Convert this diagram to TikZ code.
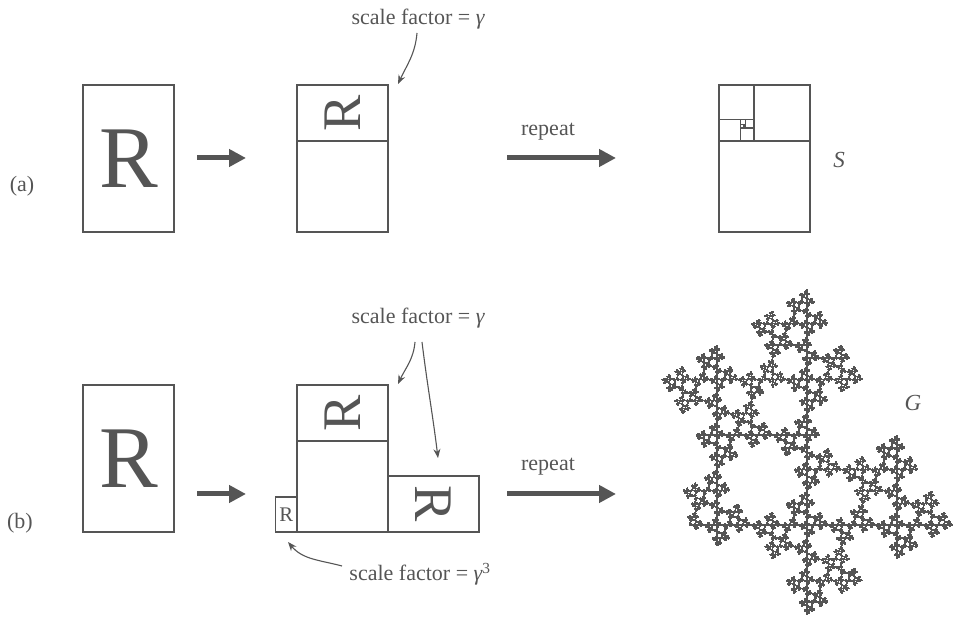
\documentclass[tikz,border=0pt]{standalone}
\usepackage{fontspec}
\setmainfont{Liberation Serif}
\usetikzlibrary{arrows.meta}
\definecolor{ink}{HTML}{555555}
\def\gam{0.618034}
\def\gamc{0.236068}
\def\phiv{1.618034}
\def\gmax{10}
\tikzset{
  fone/.style={cm={0,\gam,-\gam,0,(1,1)}},
  ftwo/.style={cm={0,-\gam,\gam,0,(1,\gam)}},
  fthree/.style={cm={\gamc,0,0,\gamc,(-\gamc,0)}},
  rbox/.style={draw=ink, line width=1.6pt},
  bigarrow/.style={-{Triangle[length=17pt,width=17pt]}, line width=5pt, draw=ink},
  thinarrow/.style={-{Stealth[length=9pt,width=7pt]}, line width=1.1pt, draw=ink},
  lab/.style={font=\fontsize{22}{24}\selectfont, text=ink, inner sep=0pt},
  letter/.style={transform shape, inner sep=0pt, font=\fontsize{88}{88}\selectfont, text=ink},
}
\newcommand\runit[1]{%
  \draw[rbox] (0,0) rectangle (1,\phiv);
  \node[letter] (#1) at (0.5,0.809017) {R};}
\newcommand\sstep[1]{%
  \ifnum#1>0
    \draw[rbox] (0,0) rectangle (1,1);
    \begin{scope}[fone]\expandafter\sstep\expandafter{\the\numexpr#1-1\relax}\end{scope}%
  \fi}
\newcommand\gstep[1]{%
  \ifnum#1>\gmax\relax
    \pgfpathrectangle{\pgfpointorigin}{\pgfpointxy{1}{1.618}}\pgfusepath{fill,stroke}%
  \else
    \begin{scope}[fone]\expandafter\gstep\expandafter{\the\numexpr#1+1\relax}\end{scope}%
    \begin{scope}[ftwo]\expandafter\gstep\expandafter{\the\numexpr#1+1\relax}\end{scope}%
    \begin{scope}[fthree]\expandafter\gstep\expandafter{\the\numexpr#1+3\relax}\end{scope}%
  \fi}
\begin{document}
\begin{tikzpicture}[x=1pt,y=1pt]
\useasboundingbox (0,0) rectangle (955,623);
% ---------------- (a) ----------------
\node[lab] (la) at (22,437) {(a)};
\begin{scope}[shift={(83,391)},x=91pt,y=91pt]
  \runit{Ra}
\end{scope}
\coordinate (a1s) at (197,465);
\coordinate (a1e) at (246,465);
\draw[bigarrow] (a1s) -- (a1e);
\begin{scope}[shift={(297,391)},x=91pt,y=91pt]
  \draw[rbox] (0,0) rectangle (1,1);
  \begin{scope}[fone]\runit{Rb}\end{scope}
\end{scope}
\node[lab,anchor=base] (sfa) at (418,598) {scale factor = {\itshape γ}};
\coordinate (sfas) at (417,590);
\coordinate (sfae) at (398,539);
\draw[thinarrow] (sfas) to[out=-95,in=65] (sfae);
\coordinate (r1s) at (507,465);
\coordinate (r1e) at (616,465);
\draw[bigarrow] (r1s) -- (r1e);
\node[lab] (rpa) at (548,491) {repeat};
\begin{scope}[shift={(719,391)},x=91pt,y=91pt]
  \draw[rbox] (0,0) rectangle (1,\phiv);
  \sstep{12}
\end{scope}
\node[lab,font=\fontsize{23}{24}\selectfont\itshape] (Sl) at (839,463) {S};
% ---------------- (b) ----------------
\node[lab] (lb) at (20,100) {(b)};
\begin{scope}[shift={(83,91)},x=91pt,y=91pt]
  \runit{Rc}
\end{scope}
\coordinate (b1s) at (197,129);
\coordinate (b1e) at (246,129);
\draw[bigarrow] (b1s) -- (b1e);
\begin{scope}[shift={(297,91)},x=91pt,y=91pt]
  \draw[rbox] (0,0) rectangle (1,1);
  \begin{scope}[fone]\runit{Rd}\end{scope}
  \begin{scope}[ftwo]\runit{Re}\end{scope}
  \begin{scope}[fthree]\runit{Rf}\end{scope}
\end{scope}
\node[lab,anchor=base] (sfb) at (418,299) {scale factor = {\itshape γ}};
\coordinate (sfbs) at (415,281);
\coordinate (sfbe) at (398,239);
\draw[thinarrow] (sfbs) to[out=-95,in=65] (sfbe);
\coordinate (sfbs2) at (422,281);
\coordinate (sfbe2) at (438,165);
\draw[thinarrow] (sfbs2) to[out=-83,in=97] (sfbe2);
\node[lab,anchor=base] (sfc) at (420,42) {scale factor = {\itshape γ}\textsuperscript{3}};
\coordinate (sfcs) at (342,57);
\coordinate (sfce) at (288,81);
\draw[thinarrow] (sfcs) to[out=165,in=-50] (sfce);
\coordinate (r2s) at (507,129);
\coordinate (r2e) at (616,129);
\draw[bigarrow] (r2s) -- (r2e);
\node[lab] (rpb) at (548,156) {repeat};
\begin{scope}[shift={(717,98)},x=90pt,y=90pt,fill=ink,draw=ink,line width=1.3pt]
  \gstep{0}
\end{scope}
\node[lab,font=\fontsize{23}{24}\selectfont\itshape] (Gl) at (913,220) {G};
\end{tikzpicture}
\end{document}
